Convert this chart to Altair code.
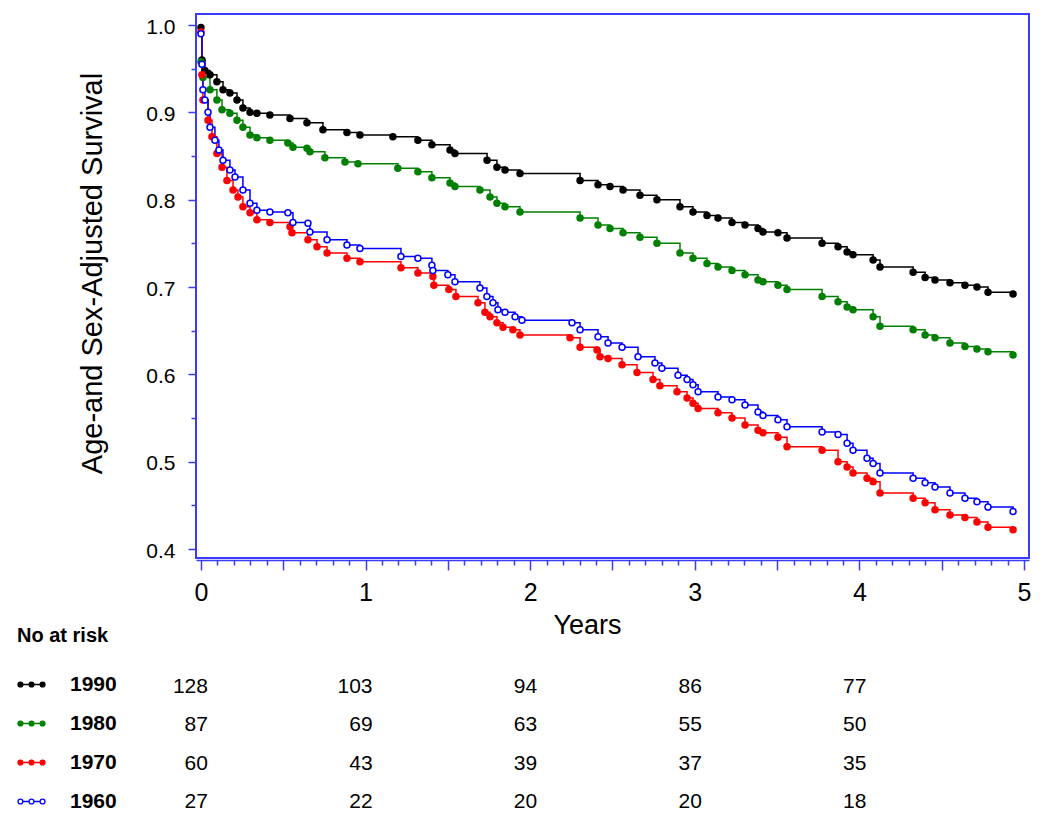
import altair as alt
import pandas as pd

# ---------------- data ----------------
cohorts = ["1990", "1980", "1970", "1960"]
colors = ["#000000", "#008000", "#ff0000", "#0000ff"]
fills = ["#000000", "#008000", "#ff0000", "#ffffff"]

t_1990 = [0.0, 0.006, 0.024, 0.055, 0.097, 0.134, 0.176, 0.219, 0.255, 0.298, 0.340, 0.419,
          0.541, 0.644, 0.741, 0.887, 0.966, 1.166, 1.318, 1.403, 1.513, 1.543, 1.738, 1.798,
          1.847, 1.938, 2.303, 2.412, 2.485, 2.564, 2.667, 2.770, 2.910, 2.989, 3.074, 3.141,
          3.226, 3.305, 3.384, 3.414, 3.505, 3.560, 3.773, 3.870, 3.925, 3.961, 4.083, 4.125,
          4.326, 4.399, 4.459, 4.550, 4.641, 4.714, 4.781, 4.933]
s_1990 = [0.997, 0.960, 0.948, 0.943, 0.935, 0.926, 0.922, 0.914, 0.905, 0.900, 0.899, 0.897,
          0.893, 0.888, 0.880, 0.877, 0.874, 0.872, 0.868, 0.863, 0.857, 0.853, 0.845, 0.837,
          0.834, 0.830, 0.822, 0.817, 0.815, 0.811, 0.805, 0.800, 0.792, 0.786, 0.782, 0.779,
          0.774, 0.771, 0.767, 0.763, 0.762, 0.756, 0.750, 0.746, 0.740, 0.737, 0.731, 0.723,
          0.717, 0.711, 0.708, 0.705, 0.702, 0.700, 0.694, 0.692]

t_1980 = [0.0, 0.012, 0.055, 0.097, 0.128, 0.176, 0.219, 0.255, 0.298, 0.340, 0.419, 0.528,
          0.559, 0.644, 0.662, 0.753, 0.875, 0.954, 1.196, 1.318, 1.403, 1.513, 1.543, 1.695,
          1.756, 1.798, 1.847, 1.938, 2.303, 2.412, 2.485, 2.564, 2.667, 2.770, 2.910, 2.989,
          3.074, 3.141, 3.226, 3.305, 3.384, 3.414, 3.505, 3.560, 3.773, 3.870, 3.925, 3.961,
          4.083, 4.125, 4.326, 4.399, 4.459, 4.550, 4.641, 4.714, 4.781, 4.933]
s_1980 = [0.958, 0.940, 0.926, 0.914, 0.903, 0.899, 0.891, 0.883, 0.874, 0.871, 0.868, 0.865,
          0.860, 0.859, 0.855, 0.848, 0.843, 0.841, 0.836, 0.832, 0.825, 0.819, 0.815, 0.811,
          0.803, 0.796, 0.792, 0.786, 0.779, 0.771, 0.767, 0.762, 0.757, 0.750, 0.739, 0.733,
          0.727, 0.723, 0.719, 0.714, 0.708, 0.706, 0.702, 0.697, 0.689, 0.683, 0.677, 0.674,
          0.666, 0.655, 0.651, 0.645, 0.642, 0.636, 0.632, 0.629, 0.626, 0.622]

t_1970 = [0.0, 0.006, 0.012, 0.043, 0.067, 0.097, 0.128, 0.158, 0.195, 0.225, 0.255, 0.298,
          0.340, 0.419, 0.541, 0.553, 0.650, 0.705, 0.766, 0.887, 0.966, 1.215, 1.318, 1.409,
          1.415, 1.506, 1.549, 1.683, 1.725, 1.756, 1.798, 1.835, 1.895, 1.938, 2.242, 2.303,
          2.406, 2.424, 2.473, 2.558, 2.649, 2.746, 2.788, 2.892, 2.953, 2.989, 3.020, 3.141,
          3.226, 3.305, 3.384, 3.414, 3.505, 3.560, 3.773, 3.870, 3.925, 3.961, 4.046, 4.083,
          4.125, 4.326, 4.399, 4.459, 4.550, 4.641, 4.714, 4.781, 4.933]
s_1970 = [0.992, 0.943, 0.914, 0.891, 0.872, 0.853, 0.837, 0.822, 0.811, 0.803, 0.792, 0.785,
          0.777, 0.774, 0.769, 0.762, 0.754, 0.746, 0.739, 0.733, 0.729, 0.722, 0.716, 0.712,
          0.702, 0.697, 0.689, 0.682, 0.671, 0.666, 0.659, 0.654, 0.651, 0.645, 0.642, 0.631,
          0.628, 0.620, 0.618, 0.611, 0.602, 0.594, 0.587, 0.580, 0.573, 0.567, 0.561, 0.556,
          0.550, 0.542, 0.536, 0.533, 0.528, 0.517, 0.513, 0.500, 0.494, 0.487, 0.481, 0.477,
          0.464, 0.458, 0.453, 0.445, 0.439, 0.436, 0.431, 0.425, 0.422]

t_1960 = [0.0, 0.006, 0.012, 0.024, 0.043, 0.055, 0.085, 0.109, 0.134, 0.176, 0.207, 0.255,
          0.298, 0.340, 0.419, 0.528, 0.559, 0.650, 0.662, 0.766, 0.887, 0.966, 1.215, 1.318,
          1.403, 1.409, 1.500, 1.543, 1.695, 1.737, 1.774, 1.804, 1.847, 1.908, 1.950, 2.254,
          2.303, 2.412, 2.473, 2.558, 2.655, 2.758, 2.800, 2.898, 2.953, 2.989, 3.020, 3.141,
          3.226, 3.305, 3.384, 3.414, 3.505, 3.560, 3.773, 3.870, 3.925, 3.961, 4.046, 4.083,
          4.125, 4.326, 4.399, 4.459, 4.550, 4.641, 4.714, 4.781, 4.933]
s_1960 = [0.990, 0.955, 0.926, 0.914, 0.900, 0.883, 0.868, 0.857, 0.845, 0.834, 0.826, 0.811,
          0.796, 0.788, 0.786, 0.785, 0.774, 0.773, 0.763, 0.754, 0.748, 0.744, 0.735, 0.733,
          0.725, 0.719, 0.714, 0.706, 0.699, 0.689, 0.682, 0.674, 0.671, 0.666, 0.662, 0.659,
          0.651, 0.643, 0.636, 0.631, 0.620, 0.613, 0.607, 0.599, 0.594, 0.588, 0.580, 0.574,
          0.571, 0.565, 0.557, 0.553, 0.548, 0.540, 0.534, 0.531, 0.521, 0.513, 0.504, 0.498,
          0.487, 0.481, 0.476, 0.471, 0.464, 0.458, 0.454, 0.448, 0.443]

risk_times = [0, 1, 2, 3, 4]
risk_1990 = [128, 103, 94, 86, 77]
risk_1980 = [87, 69, 63, 55, 50]
risk_1970 = [60, 43, 39, 37, 35]
risk_1960 = [27, 22, 20, 20, 18]

# ---------------- tables ----------------
series = {"1990": (t_1990, s_1990), "1980": (t_1980, s_1980),
          "1970": (t_1970, s_1970), "1960": (t_1960, s_1960)}
rows = []
for c, (ts, ss) in series.items():
    for t, s in zip(ts, ss):
        rows.append({"cohort": c, "t": t, "s": s})
curves = pd.DataFrame(rows)

risk = {"1990": risk_1990, "1980": risk_1980, "1970": risk_1970, "1960": risk_1960}
rrows = []
for c, vals in risk.items():
    for t, n in zip(risk_times, vals):
        rrows.append({"cohort": c, "t": t, "n": str(n)})
risk_df = pd.DataFrame(rrows)

FONT = "Liberation Sans, Arial, Helvetica, sans-serif"
AXBLUE = "#3b3bff"

x_ticks = [round(i * 0.1, 1) for i in range(51)]
y_ticks = [round(0.4 + i * 0.05, 2) for i in range(13)]

x_scale = alt.Scale(domain=[-0.03, 5.03], nice=False, zero=False)
y_scale = alt.Scale(domain=[0.3897, 1.0126], nice=False, zero=False)

x_axis = alt.Axis(
    values=x_ticks, title="Years", orient="bottom", offset=2,
    labelExpr="abs(datum.value - round(datum.value)) < 0.001 ? format(datum.value, 'd') : ''",
    labelFontSize=25, labelFont=FONT, labelColor="black", labelFlush=False,
    labelOverlap=False, labelPadding=10, labelAngle=0,
    tickColor=AXBLUE, tickWidth=1.5,
    tickSize={"condition": {"test": "abs(datum.value*2 - round(datum.value*2)) < 0.001", "value": 10}, "value": 5},
    domainColor=AXBLUE, domainWidth=1.5, grid=False,
    titleFontSize=27, titleFont=FONT, titleFontWeight="normal", titleColor="black",
    titleX=391, titleY=65, titleAlign="center", titleBaseline="middle",
)
y_axis = alt.Axis(
    values=y_ticks, title="Age-and Sex-Adjusted Survival", orient="left",
    labelExpr="abs(datum.value*10 - round(datum.value*10)) < 0.001 ? format(datum.value, '.1f') : ''",
    labelFontSize=21, labelFont=FONT, labelColor="black", labelFlush=False,
    labelOverlap=False, labelPadding=13, labelOffset=2,
    tickColor=AXBLUE, tickWidth=1.5,
    tickSize={"condition": {"test": "abs(datum.value*10 - round(datum.value*10)) < 0.001", "value": 8}, "value": 5},
    domain=False, grid=False,
    titleFontSize=29, titleFont=FONT, titleFontWeight="normal", titleColor="black",
    titleX=-104, titleY=259, titleAngle=270, titleAlign="center", titleBaseline="middle",
)

r = 0.18
def circ(cx):
    return (f"M{cx + r},0 A{r},{r} 0 1 1 {cx - r},0 A{r},{r} 0 1 1 {cx + r},0 Z ")
sym_path = (circ(-0.82) + circ(0) + circ(0.82)
            + f"M{-0.82 + r},0 L{-r},0 M{r},0 L{0.82 - r},0")

legend = alt.Legend(
    title="No at risk", orient="none", legendX=-179, legendY=612,
    padding=0, titleFontSize=20, titleFontWeight="bold", titleFont=FONT,
    titleColor="black", titlePadding=24, titleAnchor="start",
    labelFontSize=21, labelFontWeight="bold", labelFont=FONT, labelColor="black",
    labelOffset=24, symbolType=sym_path, symbolSize=729, symbolStrokeWidth=1.3,
    rowPadding=14, symbolOpacity=1,
)

stroke_enc = alt.Stroke("cohort:N", scale=alt.Scale(domain=cohorts, range=colors), legend=legend)
fill_enc = alt.Fill("cohort:N", scale=alt.Scale(domain=cohorts, range=fills), legend=legend)

lines = alt.Chart(curves).mark_line(interpolate="step-after", strokeWidth=1.5).encode(
    x=alt.X("t:Q", scale=x_scale, axis=x_axis),
    y=alt.Y("s:Q", scale=y_scale, axis=y_axis),
    stroke=stroke_enc,
    detail="cohort:N",
)

points = alt.Chart(curves).mark_point(filled=False, size=36, strokeWidth=1.5, opacity=1, shape="circle").encode(
    x=alt.X("t:Q", scale=x_scale, axis=x_axis),
    y=alt.Y("s:Q", scale=y_scale, axis=y_axis),
    stroke=stroke_enc,
    fill=fill_enc,
)

plot = alt.layer(lines, points)

table = alt.Chart(risk_df).mark_text(align="right", baseline="middle", dx=7, fontSize=21, font=FONT, color="black").encode(
    x=alt.X("t:Q", scale=x_scale, axis=x_axis),
    y=alt.Y("cohort:N", scale=alt.Scale(type="point", domain=cohorts, range=[673, 788], padding=0), axis=None),
    text="n:N",
)

chart = alt.layer(plot, table).resolve_scale(y="independent").properties(
    width=833, height=544,
    autosize=alt.AutoSizeParams(type="none"),
    padding={"left": 188, "top": 6, "right": 10, "bottom": 270},
).configure(background="white").configure_view(stroke=AXBLUE, strokeWidth=2)

chart.save("out.html", embed_options={"renderer": "svg", "actions": False})
